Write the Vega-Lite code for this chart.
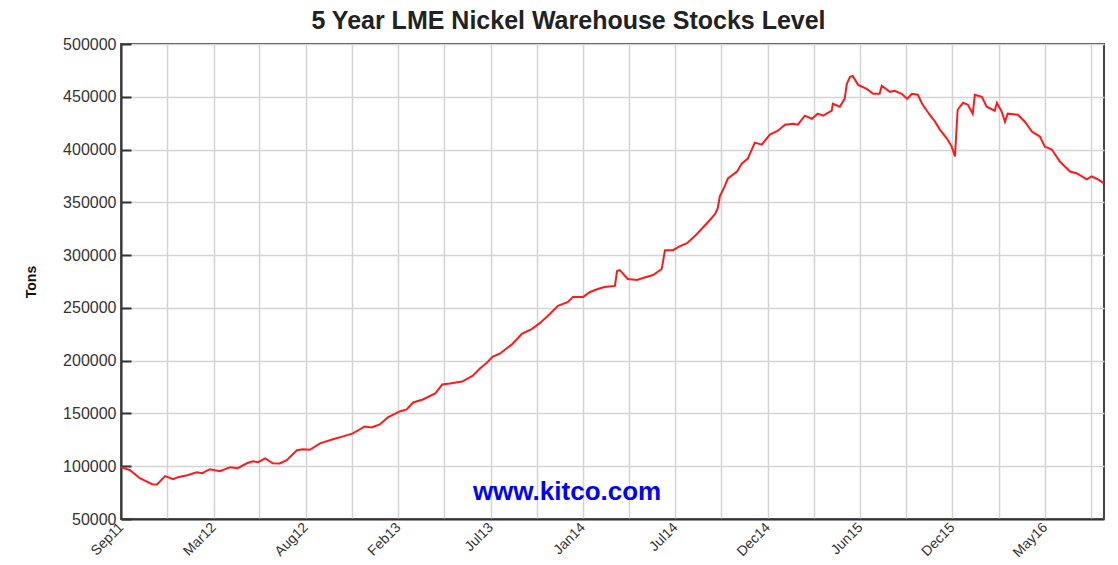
{
  "$schema": "https://vega.github.io/schema/vega-lite/v6.json",
  "width": 983,
  "height": 475,
  "autosize": {"type": "none"},
  "padding": {"left": 121, "top": 44, "right": 14, "bottom": 46},
  "background": "white",
  "title": {
    "text": "5 Year LME Nickel Warehouse Stocks Level",
    "font": "Liberation Sans",
    "fontSize": 25,
    "fontWeight": "bold",
    "color": "#222222",
    "anchor": "middle",
    "dx": -44,
    "offset": 2
  },
  "config": {
    "view": {"stroke": "#444444", "strokeWidth": 2},
    "font": "Liberation Sans"
  },
  "datasets": {
    "stocks": [
      {"date": "2011-09-12", "tons": 99100},
      {"date": "2011-09-29", "tons": 96200},
      {"date": "2011-10-17", "tons": 88700},
      {"date": "2011-11-09", "tons": 83000},
      {"date": "2011-11-18", "tons": 82800},
      {"date": "2011-12-03", "tons": 90600},
      {"date": "2011-12-18", "tons": 87700},
      {"date": "2011-12-27", "tons": 89600},
      {"date": "2012-01-13", "tons": 91500},
      {"date": "2012-01-31", "tons": 94300},
      {"date": "2012-02-10", "tons": 93400},
      {"date": "2012-02-24", "tons": 97200},
      {"date": "2012-03-14", "tons": 95300},
      {"date": "2012-04-02", "tons": 99100},
      {"date": "2012-04-16", "tons": 98100},
      {"date": "2012-05-03", "tons": 102800},
      {"date": "2012-05-14", "tons": 104700},
      {"date": "2012-05-24", "tons": 103800},
      {"date": "2012-06-06", "tons": 107500},
      {"date": "2012-06-20", "tons": 102800},
      {"date": "2012-07-03", "tons": 102600},
      {"date": "2012-07-16", "tons": 105700},
      {"date": "2012-08-04", "tons": 115100},
      {"date": "2012-08-15", "tons": 116000},
      {"date": "2012-08-28", "tons": 115600},
      {"date": "2012-09-16", "tons": 121700},
      {"date": "2012-10-10", "tons": 125500},
      {"date": "2012-10-29", "tons": 128300},
      {"date": "2012-11-16", "tons": 131100},
      {"date": "2012-12-08", "tons": 137700},
      {"date": "2012-12-21", "tons": 136800},
      {"date": "2013-01-05", "tons": 139600},
      {"date": "2013-01-20", "tons": 146200},
      {"date": "2013-02-11", "tons": 151900},
      {"date": "2013-02-24", "tons": 153800},
      {"date": "2013-03-08", "tons": 160400},
      {"date": "2013-03-26", "tons": 163200},
      {"date": "2013-04-18", "tons": 168900},
      {"date": "2013-05-01", "tons": 177400},
      {"date": "2013-05-15", "tons": 178300},
      {"date": "2013-06-07", "tons": 180200},
      {"date": "2013-06-27", "tons": 185800},
      {"date": "2013-07-10", "tons": 192500},
      {"date": "2013-07-23", "tons": 198100},
      {"date": "2013-08-03", "tons": 203800},
      {"date": "2013-08-16", "tons": 206600},
      {"date": "2013-09-09", "tons": 216000},
      {"date": "2013-09-26", "tons": 225500},
      {"date": "2013-10-15", "tons": 230200},
      {"date": "2013-10-30", "tons": 235800},
      {"date": "2013-11-17", "tons": 244300},
      {"date": "2013-12-02", "tons": 251900},
      {"date": "2013-12-21", "tons": 255700},
      {"date": "2013-12-30", "tons": 260400},
      {"date": "2014-01-18", "tons": 260400},
      {"date": "2014-01-31", "tons": 265100},
      {"date": "2014-02-14", "tons": 267900},
      {"date": "2014-02-27", "tons": 269800},
      {"date": "2014-03-18", "tons": 270800},
      {"date": "2014-03-22", "tons": 284900},
      {"date": "2014-03-27", "tons": 285800},
      {"date": "2014-04-11", "tons": 277400},
      {"date": "2014-04-28", "tons": 276400},
      {"date": "2014-05-09", "tons": 278300},
      {"date": "2014-05-28", "tons": 281100},
      {"date": "2014-06-13", "tons": 286800},
      {"date": "2014-06-19", "tons": 304700},
      {"date": "2014-07-04", "tons": 304700},
      {"date": "2014-07-17", "tons": 308500},
      {"date": "2014-07-30", "tons": 311300},
      {"date": "2014-08-17", "tons": 319800},
      {"date": "2014-09-05", "tons": 330200},
      {"date": "2014-09-20", "tons": 338700},
      {"date": "2014-09-25", "tons": 344300},
      {"date": "2014-09-29", "tons": 355700},
      {"date": "2014-10-08", "tons": 365100},
      {"date": "2014-10-14", "tons": 372600},
      {"date": "2014-10-31", "tons": 379200},
      {"date": "2014-11-09", "tons": 386800},
      {"date": "2014-11-20", "tons": 391500},
      {"date": "2014-12-03", "tons": 406600},
      {"date": "2014-12-16", "tons": 404700},
      {"date": "2014-12-31", "tons": 414200},
      {"date": "2015-01-15", "tons": 417900},
      {"date": "2015-01-28", "tons": 423600},
      {"date": "2015-02-12", "tons": 424500},
      {"date": "2015-02-21", "tons": 423600},
      {"date": "2015-03-06", "tons": 432100},
      {"date": "2015-03-19", "tons": 429200},
      {"date": "2015-03-30", "tons": 434000},
      {"date": "2015-04-09", "tons": 432100},
      {"date": "2015-04-25", "tons": 436800},
      {"date": "2015-04-27", "tons": 443400},
      {"date": "2015-05-10", "tons": 440600},
      {"date": "2015-05-19", "tons": 448100},
      {"date": "2015-05-23", "tons": 462300},
      {"date": "2015-05-29", "tons": 468900},
      {"date": "2015-06-03", "tons": 469800},
      {"date": "2015-06-13", "tons": 461300},
      {"date": "2015-06-29", "tons": 457500},
      {"date": "2015-07-11", "tons": 452800},
      {"date": "2015-07-23", "tons": 452800},
      {"date": "2015-07-27", "tons": 460400},
      {"date": "2015-08-11", "tons": 454700},
      {"date": "2015-08-20", "tons": 455700},
      {"date": "2015-09-02", "tons": 452800},
      {"date": "2015-09-12", "tons": 448100},
      {"date": "2015-09-21", "tons": 452800},
      {"date": "2015-10-02", "tons": 451900},
      {"date": "2015-10-10", "tons": 443400},
      {"date": "2015-10-24", "tons": 433000},
      {"date": "2015-11-03", "tons": 426400},
      {"date": "2015-11-12", "tons": 418900},
      {"date": "2015-11-25", "tons": 410400},
      {"date": "2015-12-04", "tons": 402800},
      {"date": "2015-12-10", "tons": 393400},
      {"date": "2015-12-15", "tons": 437700},
      {"date": "2015-12-25", "tons": 444300},
      {"date": "2016-01-03", "tons": 442500},
      {"date": "2016-01-12", "tons": 434000},
      {"date": "2016-01-16", "tons": 451900},
      {"date": "2016-01-29", "tons": 450000},
      {"date": "2016-02-07", "tons": 440600},
      {"date": "2016-02-22", "tons": 436800},
      {"date": "2016-02-26", "tons": 444300},
      {"date": "2016-03-06", "tons": 435900},
      {"date": "2016-03-12", "tons": 426400},
      {"date": "2016-03-17", "tons": 434000},
      {"date": "2016-04-05", "tons": 433000},
      {"date": "2016-04-18", "tons": 426400},
      {"date": "2016-05-01", "tons": 417000},
      {"date": "2016-05-16", "tons": 412300},
      {"date": "2016-05-25", "tons": 402800},
      {"date": "2016-06-07", "tons": 400000},
      {"date": "2016-06-22", "tons": 388700},
      {"date": "2016-07-11", "tons": 379200},
      {"date": "2016-07-24", "tons": 377400},
      {"date": "2016-08-11", "tons": 371700},
      {"date": "2016-08-20", "tons": 374500},
      {"date": "2016-09-01", "tons": 371700},
      {"date": "2016-09-12", "tons": 367900}
    ],
    "watermark": [
      {"date": "2013-12-19", "tons": 75500, "label": "www.kitco.com"}
    ]
  },
  "encoding": {
    "x": {
      "field": "date",
      "type": "temporal",
      "title": null,
      "scale": {
        "type": "utc",
        "domain": [
          {"year": 2011, "month": 9, "date": 12, "utc": true},
          {"year": 2016, "month": 9, "date": 12, "utc": true}
        ]
      },
      "axis": {
        "values": [
          {"year": 2011, "month": 9, "date": 12, "utc": true},
          {"year": 2011, "month": 12, "date": 7, "utc": true},
          {"year": 2012, "month": 3, "date": 2, "utc": true},
          {"year": 2012, "month": 5, "date": 26, "utc": true},
          {"year": 2012, "month": 8, "date": 20, "utc": true},
          {"year": 2012, "month": 11, "date": 14, "utc": true},
          {"year": 2013, "month": 2, "date": 8, "utc": true},
          {"year": 2013, "month": 5, "date": 5, "utc": true},
          {"year": 2013, "month": 7, "date": 30, "utc": true},
          {"year": 2013, "month": 10, "date": 24, "utc": true},
          {"year": 2014, "month": 1, "date": 17, "utc": true},
          {"year": 2014, "month": 4, "date": 13, "utc": true},
          {"year": 2014, "month": 7, "date": 8, "utc": true},
          {"year": 2014, "month": 10, "date": 2, "utc": true},
          {"year": 2014, "month": 12, "date": 27, "utc": true},
          {"year": 2015, "month": 3, "date": 23, "utc": true},
          {"year": 2015, "month": 6, "date": 17, "utc": true},
          {"year": 2015, "month": 9, "date": 10, "utc": true},
          {"year": 2015, "month": 12, "date": 5, "utc": true},
          {"year": 2016, "month": 2, "date": 29, "utc": true},
          {"year": 2016, "month": 5, "date": 25, "utc": true},
          {"year": 2016, "month": 8, "date": 19, "utc": true}
        ],
        "labelExpr": "indexof(['Sep11','Mar12','Aug12','Feb13','Jul13','Jan14','Jul14','Dec14','Jun15','Dec15','May16'], utcFormat(datum.value, '%b%y')) >= 0 ? utcFormat(datum.value, '%b%y') : ''",
        "labelAngle": -45,
        "labelAlign": "right",
        "labelBaseline": "middle",
        "labelFontSize": 14,
        "labelColor": "#333333",
        "labelPadding": 6,
        "labelOverlap": false,
        "labelFlush": false,
        "ticks": false,
        "grid": true,
        "gridColor": "#d4d4d4",
        "gridWidth": 1.5,
        "domainColor": "#333333",
        "domainWidth": 2
      }
    },
    "y": {
      "field": "tons",
      "type": "quantitative",
      "title": "Tons",
      "scale": {"domain": [50000, 500000], "nice": false, "zero": false},
      "axis": {
        "values": [50000, 100000, 150000, 200000, 250000, 300000, 350000, 400000, 450000, 500000],
        "format": "d",
        "labelFontSize": 16,
        "labelColor": "#333333",
        "labelFlush": false,
        "tickSize": -10,
        "tickColor": "#333333",
        "tickWidth": 2,
        "labelPadding": 15,
        "grid": true,
        "gridColor": "#d4d4d4",
        "gridWidth": 1.5,
        "domainColor": "#333333",
        "domainWidth": 2,
        "titleFontSize": 14,
        "titleFontWeight": "bold",
        "titleColor": "#111111",
        "titleX": -83
      }
    }
  },
  "layer": [
    {
      "data": {"name": "stocks"},
      "mark": {"type": "line", "color": "#ff1a1a", "strokeWidth": 2}
    },
    {
      "data": {"name": "watermark"},
      "mark": {"type": "text", "color": "#0000ff", "fontSize": 26, "fontWeight": "bold", "align": "center", "baseline": "middle"},
      "encoding": {"text": {"field": "label"}}
    }
  ]
}
